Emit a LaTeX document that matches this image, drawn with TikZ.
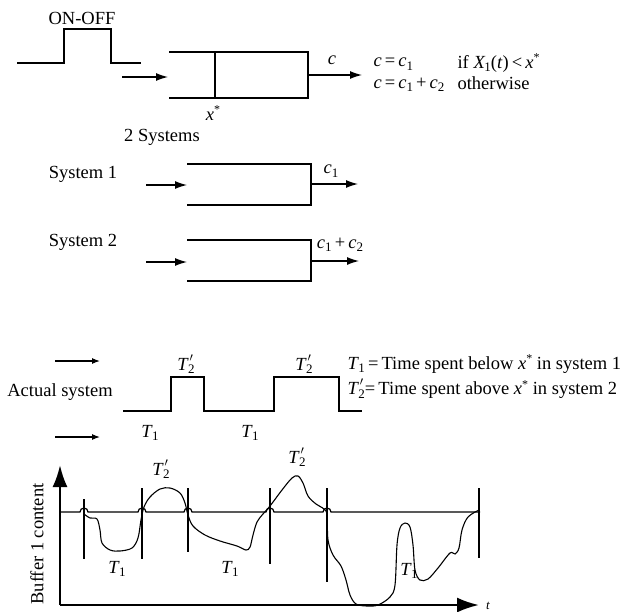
\documentclass[tikz,border=0pt]{standalone}
\usepackage{fontspec}
\setmainfont{Liberation Serif}
\usetikzlibrary{arrows.meta}
\newcommand{\fsz}{\fontsize{18.5}{21}\selectfont}
\newcommand{\ssub}[1]{\raisebox{-0.4ex}{\fontsize{13}{13}\selectfont #1}}
\newcommand{\vi}[1]{\textit{#1}}
\newcommand{\Tone}{\textit{T}\kern-0.5pt\ssub{1}}
\newcommand{\Ttwo}{\textit{T}\kern-0.5pt\rlap{\raisebox{1.05ex}{\kern1.5pt$\scriptstyle\prime$}}\ssub{2}}
\newcommand{\xst}{\textit{x}\raisebox{0.75ex}{\fontsize{12}{12}\selectfont *}}
\newcommand{\cc}[1]{\textit{c}\ssub{#1}}
\tikzset{
  arr/.style={-{Latex[length=12pt,width=8pt]}},
  sarr/.style={-{Latex[length=8pt,width=6pt]}},
  axarr/.style={line width=2.4pt,-{Latex[length=22pt,width=15pt]}},
}
\begin{document}
\begin{tikzpicture}[x=1pt,y=-1pt,line width=1.2pt,every node/.style={font=\fsz,inner sep=0pt}]
\useasboundingbox (0,0) rectangle (627,611);
% ---- top: ON-OFF into threshold buffer
\node (onoff) at (82,18) {ON-OFF};
\draw (17,63) -- (64,63) -- (64,29) -- (111,29) -- (111,63) -- (141,63);
\coordinate (inA) at (122,77); \coordinate (boxL) at (168,77);
\draw[arr] (inA) -- (boxL);
\draw (169,52) -- (308,52) -- (308,98) -- (169,98);
\draw (215,52) -- (215,98);
\node (xs) at (213,113) {\xst};
\coordinate (outA) at (308,75); \coordinate (outB) at (362,75);
\draw[arr] (outA) -- (outB);
\node (c) at (332,60) {\vi{c}};
\node[anchor=west] (eq1) at (373,64) {\vi{c}\,=\,\cc{1}};
\node[anchor=west] (cond1) at (457,63) {if \vi{X}\kern-1pt\ssub{1}(\vi{t})\,<\,\xst};
\node[anchor=west] (eq2) at (373,85) {\vi{c}\,=\,\cc{1}\,+\,\cc{2}};
\node[anchor=west] (cond2) at (457,83) {otherwise};
\node (two) at (162,137) {2 Systems};
% ---- system 1
\node (s1) at (83,174) {System 1};
\coordinate (s1in) at (146,185); \coordinate (s1L) at (187,185);
\draw[arr] (s1in) -- (s1L);
\draw (187,164) -- (311,164) -- (311,205) -- (187,205);
\coordinate (s1oA) at (311,184); \coordinate (s1oB) at (358,184);
\draw[arr] (s1oA) -- (s1oB);
\node (c1) at (331,171) {\cc{1}};
% ---- system 2
\node (s2) at (83,242) {System 2};
\coordinate (s2in) at (146,262); \coordinate (s2L) at (187,262);
\draw[arr] (s2in) -- (s2L);
\draw (187,240) -- (311,240) -- (311,281) -- (187,281);
\coordinate (s2oA) at (311,261); \coordinate (s2oB) at (359,261);
\draw[arr] (s2oA) -- (s2oB);
\node (c12) at (340,245) {\cc{1}\,+\,\cc{2}};
% ---- actual system
\coordinate (a1s) at (55,361); \coordinate (a1e) at (100,361);
\coordinate (a2s) at (55,437); \coordinate (a2e) at (100,437);
\draw[sarr,line width=1.1pt] (a1s) -- (a1e);
\draw[sarr,line width=1.1pt] (a2s) -- (a2e);
\node (act) at (60,392) {Actual system};
\draw (123,411) -- (171,411) -- (171,377) -- (204,377) -- (204,411) -- (274,411) -- (274,377) -- (339,377) -- (339,411) -- (362,411);
\node (p1) at (186,364) {\Ttwo};
\node (p2) at (304,364) {\Ttwo};
\node (q1) at (150,433) {\Tone};
\node (q2) at (250,433) {\Tone};
\node[anchor=west] (def1) at (347,364) {\Tone\,=\,Time spent below \xst{} in system 1};
\node[anchor=west] (def2) at (347,389) {\Ttwo=\,Time spent above \xst{} in system 2};
% ---- buffer content graph
\coordinate (O) at (60,605);
\coordinate (ytop) at (60,465);
\coordinate (xend) at (479,605);
\draw[axarr] (O) -- (ytop);
\draw[axarr] (O) -- (xend);
\node (tl) at (488,606) {\fontsize{13}{15}\selectfont\vi{t}};
\node[rotate=90] (ylab) at (37,544) {Buffer 1 content};
% threshold line with hops
\draw (60,512) -- (80,512) arc[start angle=180,end angle=360,radius=4]
  -- (138,512) arc[start angle=180,end angle=360,radius=4]
  -- (184,512) arc[start angle=180,end angle=360,radius=4]
  -- (266,512) arc[start angle=180,end angle=360,radius=4]
  -- (323,512) arc[start angle=180,end angle=360,radius=4]
  -- (480,512);
% vertical markers
\draw (84,499) -- (84,559);
\draw (142,488) -- (142,559);
\draw (188,488) -- (188,552);
\draw (270,488) -- (270,564);
\draw (327,488) -- (327,582);
\draw (479,488) -- (479,558);
% buffer trajectory
\draw[line width=1.1pt] plot[smooth,tension=0.55] coordinates {
 (84,514) (90,518) (97,519) (100,530) (102,543) (110,550) (120,551) (132,548)
 (138,538) (141,520) (144,507) (150,497) (160,489) (170,488) (180,493) (185,503)
 (188,515) (193,526) (205,535) (220,541) (237,546) (246,550) (250,547) (253,535)
 (257,522) (263,514) (270,506) (282,490) (292,478) (298,476) (303,483) (308,496)
 (316,504) (324,509) (327,515) (328,540) (333,555) (341,566) (346,580) (350,595)
 (356,604) (367,606) (378,605) (390,597) (395,585) (397,545) (400,528) (405,523)
 (410,527) (413,545) (415,570) (420,580) (428,579) (438,568) (450,553) (455,554)
 (459,548) (462,530) (468,517) (479,510)};
\node (g1) at (161,469) {\Ttwo};
\node (g2) at (297,457) {\Ttwo};
\node (g3) at (117,569) {\Tone};
\node (g4) at (230,569) {\Tone};
\node (g5) at (409,571) {\Tone};
\end{tikzpicture}
\end{document}
